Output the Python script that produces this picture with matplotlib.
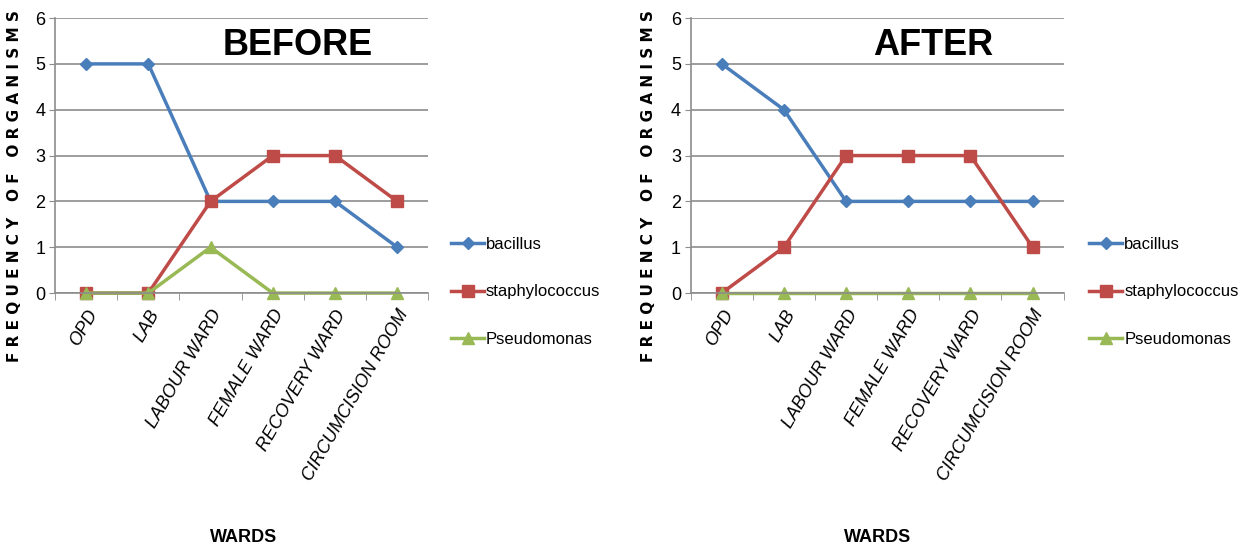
import numpy as np
import matplotlib.pyplot as plt
from matplotlib.ticker import FixedLocator

plt.rcParams['font.family'] = ['Liberation Sans Narrow', 'Liberation Sans', 'DejaVu Sans']

wards = ['OPD', 'LAB', 'LABOUR WARD', 'FEMALE WARD', 'RECOVERY WARD', 'CIRCUMCISION ROOM']
series = ['bacillus', 'staphylococcus', 'Pseudomonas']

before_bacillus = [5, 5, 2, 2, 2, 1]
before_staph = [0, 0, 2, 3, 3, 2]
before_pseudo = [0, 0, 1, 0, 0, 0]

after_bacillus = [5, 4, 2, 2, 2, 2]
after_staph = [0, 1, 3, 3, 3, 1]
after_pseudo = [0, 0, 0, 0, 0, 0]

colors = ['#4a7ebb', '#be4b48', '#98b954']
markers = ['D', 's', '^']
msizes = [6, 8, 8]

fig = plt.figure(figsize=(12.49, 5.54), dpi=100)
ax1 = fig.add_axes([0.044, 0.471, 0.299, 0.4964])
ax2 = fig.add_axes([0.553, 0.471, 0.2986, 0.4964])

panels = [
    (ax1, 'BEFORE', [before_bacillus, before_staph, before_pseudo], 0.361, 0.195),
    (ax2, 'AFTER', [after_bacillus, after_staph, after_pseudo], 0.872, 0.703),
]

x = np.arange(len(wards))
for ax, title, data, legx, ylabx in panels:
    for vals, name, c, m, ms in zip(data, series, colors, markers, msizes):
        ax.plot(x, vals, color=c, marker=m, markersize=ms, linewidth=2.5, label=name,
                clip_on=False)
    ax.set_xlim(-0.5, len(wards) - 0.5)
    ax.set_ylim(0, 6)
    ax.set_yticks(range(7))
    ax.yaxis.grid(True, color='#8c8c8c', linewidth=1.2)
    ax.set_axisbelow(True)
    for s in ['top', 'right']:
        ax.spines[s].set_visible(False)
    for s in ['left', 'bottom']:
        ax.spines[s].set_color('#8c8c8c')
        ax.spines[s].set_linewidth(1.2)
    ax.tick_params(axis='y', length=4, color='#8c8c8c', labelsize=13, pad=3)
    ax.set_xticks(x)
    ax.set_xticklabels(wards, rotation=60, ha='right', rotation_mode='anchor',
                       fontstyle='italic', fontsize=13)
    ax.tick_params(axis='x', which='major', length=0, pad=10)
    ax.xaxis.set_minor_locator(FixedLocator(np.arange(-0.5, len(wards), 1.0)))
    ax.tick_params(axis='x', which='minor', length=5, color='#8c8c8c')
    ax.text(0.65, 0.9, title, transform=ax.transAxes, fontsize=26, fontweight='bold',
            ha='center', va='center')
    ax.legend(loc='center left', bbox_to_anchor=(legx, 0.473), bbox_transform=fig.transFigure,
              frameon=False, fontsize=12, labelspacing=1.95, handlelength=2.0,
              handletextpad=0.1, borderaxespad=0, borderpad=0)
    fig.text(ylabx, 0.03, 'WARDS', fontsize=13, fontweight='bold', ha='center', va='center')

fig.text(0.012, 0.665, 'F R E Q U E N C Y   O F   O R G A N I S M S', rotation=90,
         fontsize=11, fontweight='bold', family='DejaVu Sans', ha='center', va='center')
fig.text(0.519, 0.665, 'F R E Q U E N C Y   O F   O R G A N I S M S', rotation=90,
         fontsize=11, fontweight='bold', family='DejaVu Sans', ha='center', va='center')

fig.savefig('out.png', dpi=100)
